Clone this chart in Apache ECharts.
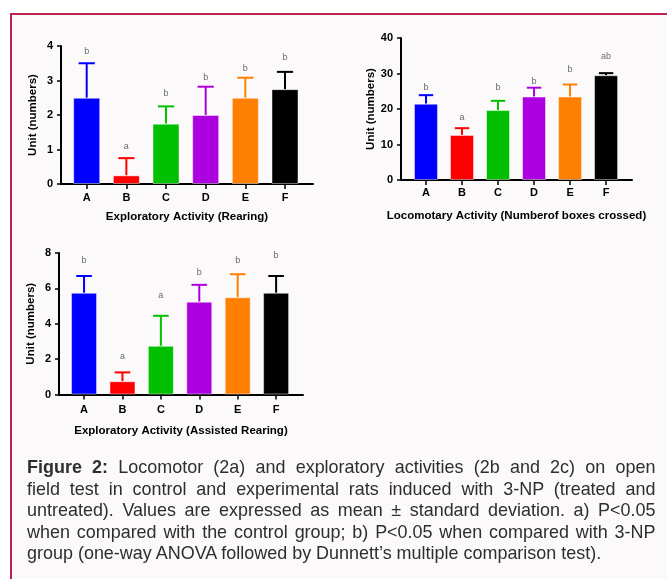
<!DOCTYPE html>
<html>
<head>
<meta charset="utf-8">
<script src="https://cdn.jsdelivr.net/npm/echarts@6/dist/echarts.min.js"></script>
<style>
    body { margin: 0; background: #fff; width: 667px; height: 579px; overflow: hidden; position: relative; }
    #frame { position: absolute; left: 10px; top: 13px; width: 700px; height: 620px; background: #fcf9fb;
        border-top: 2px solid #c0234f; border-left: 2px solid #c0234f; }
    #chart { position: absolute; left: 0; top: 0; width: 667px; height: 579px; }
    #caption { position: absolute; left: 27px; top: 456px; width: 665px; color: #2e2e2e;
        font-family: "Liberation Sans", Arial, sans-serif;
        font-size: 19px; line-height: 21.5px; transform: scaleX(0.945); transform-origin: left top; }
    #caption div { text-align: justify; text-align-last: justify; white-space: nowrap; }
    #caption div.last { text-align-last: left; }
</style>
</head>
<body>
<div id="frame"></div>
<div id="chart"></div>
<div id="caption">
    <div><b>Figure 2:</b> Locomotor (2a) and exploratory activities (2b and 2c) on open</div>
    <div>field test in control and experimental rats induced with 3-NP (treated and</div>
    <div>untreated). Values are expressed as mean ± standard deviation. a) P&lt;0.05</div>
    <div>when compared with the control group; b) P&lt;0.05 when compared with 3-NP</div>
    <div class="last">group (one-way ANOVA followed by Dunnett’s multiple comparison test).</div>
</div>
<script>
var categories = ['A', 'B', 'C', 'D', 'E', 'F'];
var barColors = ['#0000ff', '#ff0000', '#00c000', '#ad00e0', '#ff8000', '#000000'];

// 2b rearing
var rearingMean = [2.5, 0.25, 1.75, 2.0, 2.5, 2.75];
var rearingSd = [1.0, 0.5, 0.5, 0.82, 0.58, 0.5];
var rearingLetters = ['b', 'a', 'b', 'b', 'b', 'b'];
var rearingLetterY = [3.84, 1.08, 2.63, 3.08, 3.35, 3.67];

// 2a locomotion
var locoMean = [21.5, 12.7, 19.7, 23.5, 23.5, 29.5];
var locoSd = [2.4, 1.9, 2.6, 2.5, 3.4, 0.6];
var locoLetters = ['b', 'a', 'b', 'b', 'b', 'ab'];
var locoLetterY = [26.1, 17.7, 26.0, 27.7, 31.2, 34.7];

// 2c assisted rearing
var assistMean = [5.75, 0.75, 2.75, 5.25, 5.5, 5.75];
var assistSd = [0.95, 0.5, 1.7, 0.95, 1.3, 0.95];
var assistLetters = ['b', 'a', 'a', 'b', 'b', 'b'];
var assistLetterY = [7.58, 2.15, 5.6, 6.9, 7.58, 7.85];

var panels = [
    { mean: rearingMean, sd: rearingSd, letters: rearingLetters, letterY: rearingLetterY,
      grid: { left: 61, top: 46, width: 252, height: 138 }, xMin: 0.352, xMax: 6.706,
      yMax: 4, yInterval: 1, barWidth: 27, title: 'Exploratory Activity (Rearing)', labelMargin: 8, nameGap: 27 },
    { mean: locoMean, sd: locoSd, letters: locoLetters, letterY: locoLetterY,
      grid: { left: 401, top: 38, width: 231, height: 142 }, xMin: 0.306, xMax: 6.72,
      yMax: 40, yInterval: 10, barWidth: 24, title: 'Locomotary Activity (Numberof boxes crossed)', labelMargin: 7, nameGap: 30 },
    { mean: assistMean, sd: assistSd, letters: assistLetters, letterY: assistLetterY,
      grid: { left: 59, top: 253, width: 244, height: 141.5 }, xMin: 0.348, xMax: 6.70,
      yMax: 8, yInterval: 2, barWidth: 26, title: 'Exploratory Activity (Assisted Rearing)', labelMargin: 10, nameGap: 30 }
];

var fontFam = '"Liberation Sans", Arial, sans-serif';
var ticks = [1, 2, 3, 4, 5, 6];
var grids = [], xAxes = [], yAxes = [], series = [];

panels.forEach(function (p, k) {
    grids.push(p.grid);
    xAxes.push({
        type: 'value', gridIndex: k, min: p.xMin, max: p.xMax,
        splitLine: { show: false },
        axisLine: { show: true, lineStyle: { color: '#000', width: 2 } },
        axisTick: { show: true, length: 5, customValues: ticks, lineStyle: { color: '#000', width: 1.5 } },
        axisLabel: {
            customValues: ticks, margin: p.labelMargin, color: '#000', fontWeight: 'bold',
            fontSize: 11, fontFamily: fontFam,
            formatter: function (v) { return categories[Math.round(v) - 1]; }
        },
        name: p.title, nameLocation: 'middle', nameGap: p.nameGap,
        nameTextStyle: { color: '#000', fontWeight: 'bold', fontSize: 11.5, fontFamily: fontFam }
    });
    yAxes.push({
        type: 'value', gridIndex: k, min: 0, max: p.yMax, interval: p.yInterval,
        splitLine: { show: false },
        axisLine: { show: true, lineStyle: { color: '#000', width: 2 } },
        axisTick: { show: true, length: 4, lineStyle: { color: '#000', width: 1.5 } },
        axisLabel: { color: '#000', fontWeight: 'bold', fontSize: 11, fontFamily: fontFam, margin: 8 },
        name: 'Unit (numbers)', nameLocation: 'middle', nameGap: 22,
        nameTextStyle: { color: '#000', fontWeight: 'bold', fontSize: 11.5, fontFamily: fontFam }
    });
    // bars
    series.push({
        type: 'bar', xAxisIndex: k, yAxisIndex: k, barWidth: p.barWidth,
        data: p.mean.map(function (v, i) {
            return { value: [i + 1, v], itemStyle: { color: barColors[i], borderColor: 'rgba(255,255,255,0.45)', borderWidth: 1 } };
        }),
        z: 2
    });
    // upper error bars
    series.push({
        type: 'custom', xAxisIndex: k, yAxisIndex: k, z: 1,
        data: p.mean.map(function (v, i) { return [i + 1, v, p.sd[i]]; }),
        renderItem: function (params, api) {
            var x = api.value(0), m = api.value(1), s = api.value(2);
            var base = api.coord([x, m]);
            var top = api.coord([x, m + s]);
            var half = p.barWidth * 0.3;
            var col = barColors[params.dataIndex];
            return {
                type: 'group',
                children: [
                    { type: 'line', shape: { x1: base[0], y1: base[1], x2: top[0], y2: top[1] },
                      style: { stroke: col, lineWidth: 2 } },
                    { type: 'line', shape: { x1: top[0] - half, y1: top[1], x2: top[0] + half, y2: top[1] },
                      style: { stroke: col, lineWidth: 2 } }
                ]
            };
        }
    });
    // significance letters
    series.push({
        type: 'scatter', xAxisIndex: k, yAxisIndex: k, symbolSize: 0,
        data: p.letterY.map(function (v, i) { return [i + 1, v]; }),
        label: {
            show: true, position: 'inside', color: '#444', fontSize: 9, fontFamily: fontFam,
            formatter: function (d) { return p.letters[d.dataIndex]; }
        },
        silent: true
    });
});

var chart = echarts.init(document.getElementById('chart'), null, { renderer: 'canvas' });
chart.setOption({
    animation: false,
    backgroundColor: 'transparent',
    grid: grids,
    xAxis: xAxes,
    yAxis: yAxes,
    series: series
});
</script>
</body>
</html>
